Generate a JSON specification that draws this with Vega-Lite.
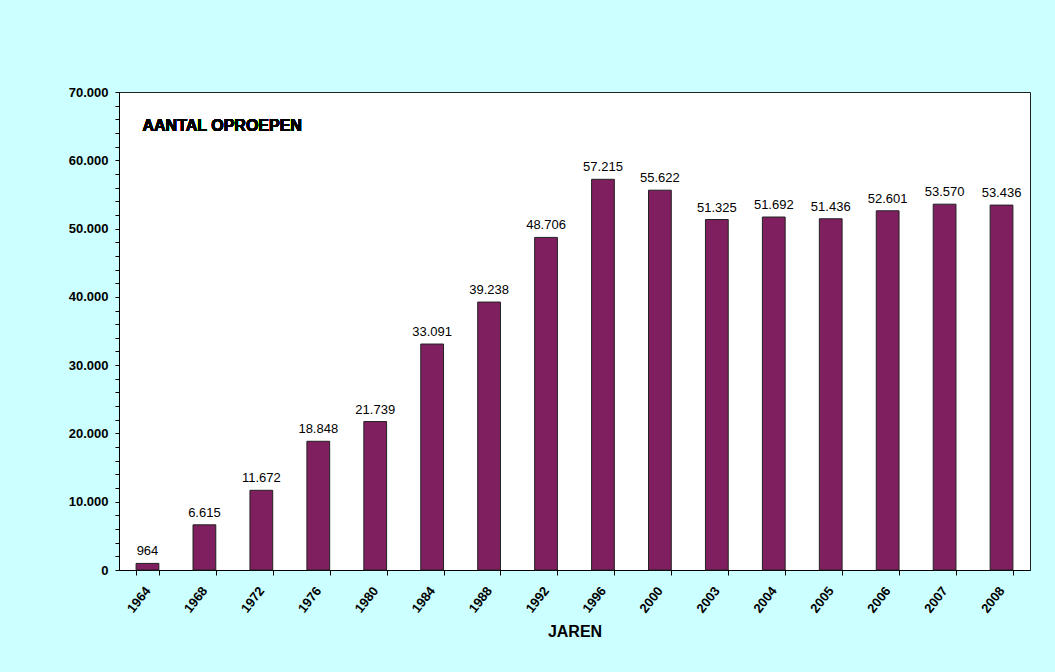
{
  "$schema": "https://vega.github.io/schema/vega-lite/v6.json",
  "width": 911,
  "height": 478,
  "autosize": {"type": "none"},
  "padding": {"left": 119, "top": 92, "right": 25, "bottom": 102},
  "background": "#CCFFFF",
  "config": {
    "locale": {"number": {"decimal": ",", "thousands": ".", "grouping": [3], "currency": ["€", ""]}},
    "font": "Liberation Sans",
    "view": {"fill": "white", "stroke": "#222222", "strokeWidth": 1}
  },
  "data": {
    "values": [
      {"jaar": "1964", "oproepen": 964},
      {"jaar": "1968", "oproepen": 6615},
      {"jaar": "1972", "oproepen": 11672},
      {"jaar": "1976", "oproepen": 18848},
      {"jaar": "1980", "oproepen": 21739},
      {"jaar": "1984", "oproepen": 33091},
      {"jaar": "1988", "oproepen": 39238},
      {"jaar": "1992", "oproepen": 48706},
      {"jaar": "1996", "oproepen": 57215},
      {"jaar": "2000", "oproepen": 55622},
      {"jaar": "2003", "oproepen": 51325},
      {"jaar": "2004", "oproepen": 51692},
      {"jaar": "2005", "oproepen": 51436},
      {"jaar": "2006", "oproepen": 52601},
      {"jaar": "2007", "oproepen": 53570},
      {"jaar": "2008", "oproepen": 53436}
    ]
  },
  "encoding": {
    "x": {
      "field": "jaar",
      "type": "nominal",
      "sort": null,
      "scale": {"paddingInner": 0.6, "paddingOuter": 0.3},
      "axis": {
        "title": "JAREN",
        "titleFont": "Liberation Sans",
        "titleFontSize": 16,
        "titleFontWeight": "bold",
        "titleColor": "black",
        "labelAngle": -52,
        "labelFont": "Liberation Sans",
        "labelFontSize": 13,
        "labelFontWeight": "bold",
        "labelColor": "black",
        "labelPadding": 13,
        "tickBand": "extent",
        "tickColor": "black",
        "tickSize": 5,
        "domainColor": "black",
        "titlePadding": 8
      }
    },
    "y": {
      "field": "oproepen",
      "type": "quantitative",
      "scale": {"domain": [0, 70000], "nice": false},
      "axis": {
        "title": null,
        "grid": false,
        "values": [0, 2000, 4000, 6000, 8000, 10000, 12000, 14000, 16000, 18000, 20000, 22000, 24000, 26000, 28000, 30000, 32000, 34000, 36000, 38000, 40000, 42000, 44000, 46000, 48000, 50000, 52000, 54000, 56000, 58000, 60000, 62000, 64000, 66000, 68000, 70000],
        "labelExpr": "datum.value % 10000 === 0 ? format(datum.value, ',d') : ''",
        "labelFont": "Liberation Sans",
        "labelFontSize": 13,
        "labelFontWeight": "bold",
        "labelColor": "black",
        "labelPadding": 7,
        "tickColor": "black",
        "tickSize": 4,
        "domainColor": "black"
      }
    }
  },
  "layer": [
    {
      "mark": {"type": "bar", "color": "#7F1F5F", "stroke": "#222222", "strokeWidth": 1}
    },
    {
      "mark": {"type": "text", "dy": -5, "fontSize": 13, "color": "black", "font": "Liberation Sans", "baseline": "bottom"},
      "encoding": {"text": {"field": "oproepen", "type": "quantitative", "format": ",d"}}
    },
    {
      "mark": {"type": "text", "align": "left", "baseline": "middle", "fontSize": 16, "fontWeight": "bold", "color": "black", "font": "Liberation Sans", "dx": -5},
      "encoding": {
        "x": {"datum": "1964"},
        "y": {"datum": 65000},
        "text": {"value": "AANTAL OPROEPEN"}
      }
    }
  ]
}
